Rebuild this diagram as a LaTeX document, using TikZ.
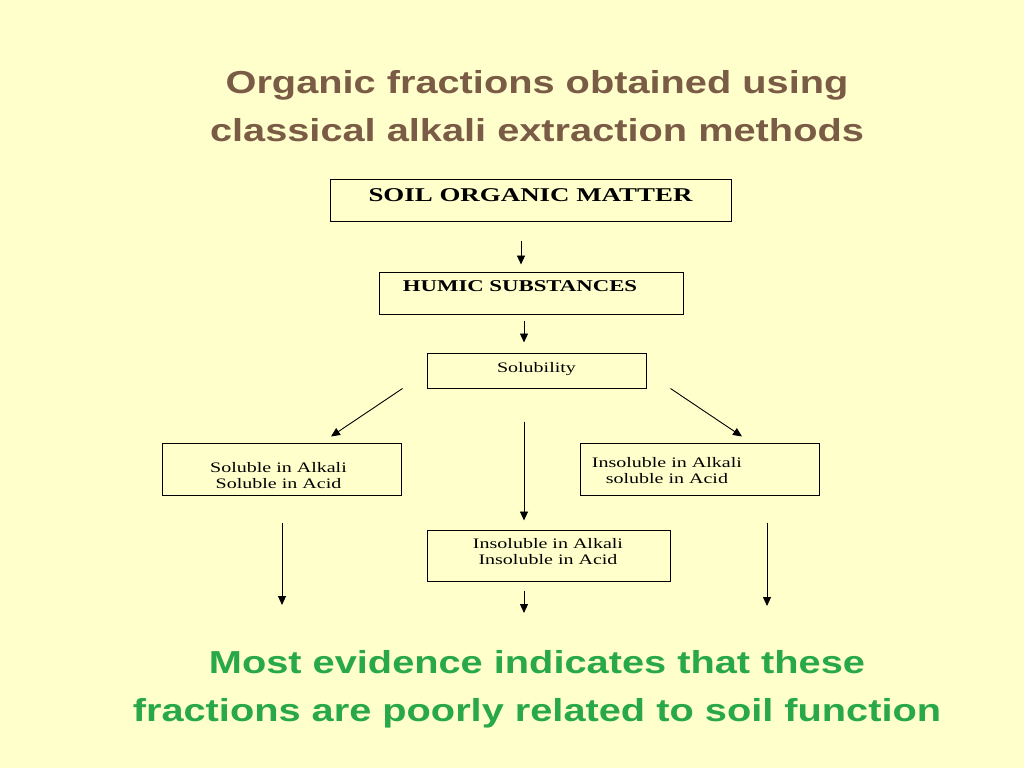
\documentclass[tikz,border=0pt]{standalone}
\usepackage{fontspec}
\usepackage{xcolor}
\usepackage{tikz}
\usetikzlibrary{positioning,calc,arrows.meta}

\newfontfamily\headfont[FakeStretch=1.25]{Liberation Sans}
\newfontfamily\boxfont[FakeStretch=1.38]{Liberation Serif}
\definecolor{slidebg}{RGB}{255,255,204}
\definecolor{titlebrown}{RGB}{122,92,70}
\definecolor{notegreen}{RGB}{40,168,72}
% text block inside a box: x offset, raise, lines
\newcommand{\boxtext}[3]{\raisebox{#2}[\height][\depth]{\kern#1\begin{tabular}{@{}c@{}}#3\end{tabular}\kern-#1}}

\begin{document}
\begin{tikzpicture}[x=1pt,y=-1pt,
    box/.style={draw, line width=1pt, inner sep=0pt},
    arr/.style={-{Triangle[length=9pt,width=8pt]}, line width=0.9pt},
    big/.style={font=\boxfont\bfseries\fontsize{19.5}{23}\selectfont},
    med/.style={font=\boxfont\bfseries\fontsize{16.5}{19.5}\selectfont},
    small/.style={font=\boxfont\fontsize{14.5}{16.5}\selectfont}]
    \fill[slidebg] (0,0) rectangle (1024,768);
    \useasboundingbox (0,0) rectangle (1024,768);

    % Heading
    \node[font=\headfont\bfseries\fontsize{31.8}{48}\selectfont, text=titlebrown, align=center] (title) at (537,106.5)
        {Organic fractions obtained using\\classical alkali extraction methods};

    % Main chain
    \node[box, big, minimum width=401, minimum height=42] (soil) at (530.5,200) {\boxtext{0pt}{2.7pt}{SOIL ORGANIC MATTER}};
    \node[box, med, minimum width=304, minimum height=42] (humic) at (531,293) {\boxtext{-11pt}{5.4pt}{HUMIC SUBSTANCES}};
    \node[box, small, minimum width=219, minimum height=35] (sol) at (536.5,370.5) {\boxtext{0pt}{1.1pt}{Solubility}};

    % Fractions
    \node[box, small, minimum width=239, minimum height=52] (left) at (281.5,469) {\boxtext{-3pt}{-8.2pt}{Soluble in Alkali\\Soluble in Acid}};
    \node[box, small, minimum width=239, minimum height=52] (right) at (699.5,469) {\boxtext{-32.6pt}{-3.2pt}{Insoluble in Alkali\\soluble in Acid}};
    \node[box, small, minimum width=243, minimum height=51] (mid) at (549,555.5) {\boxtext{-1pt}{2.3pt}{Insoluble in Alkali\\Insoluble in Acid}};

    \coordinate (leftEnd) at (282,605);
    \coordinate (midEnd) at (524,613);
    \coordinate (rightEnd) at (767,606);

    % Arrows
    \draw[arr] ($(soil.south)+(-9.5,19)$) -- ($(humic.north)+(-10,-7)$);
    \draw[arr] ($(humic.south)+(-7,6)$) -- ($(sol.north)+(-12.5,-10)$);
    \draw[arr] ($(sol.south west)+(-24,0)$) -- ($(left.north)+(49.5,-6)$);
    \draw[arr] ($(sol.south east)+(24,0)$) -- ($(right.north)+(42.5,-6)$);
    \draw[arr] ($(sol.south)+(-12.5,33)$) -- ($(mid.north)+(-25,-9)$);
    \draw[arr] ($(left.south)+(0.5,27)$) -- (leftEnd);
    \draw[arr] ($(mid.south)+(-25,9)$) -- (midEnd);
    \draw[arr] ($(right.south)+(67.5,27)$) -- (rightEnd);

    % Conclusion
    \node[font=\headfont\bfseries\fontsize{31.8}{48}\selectfont, text=notegreen, align=center] (note) at (537,689.7)
        {Most evidence indicates that these\\fractions are poorly related to soil function};
\end{tikzpicture}
\end{document}
